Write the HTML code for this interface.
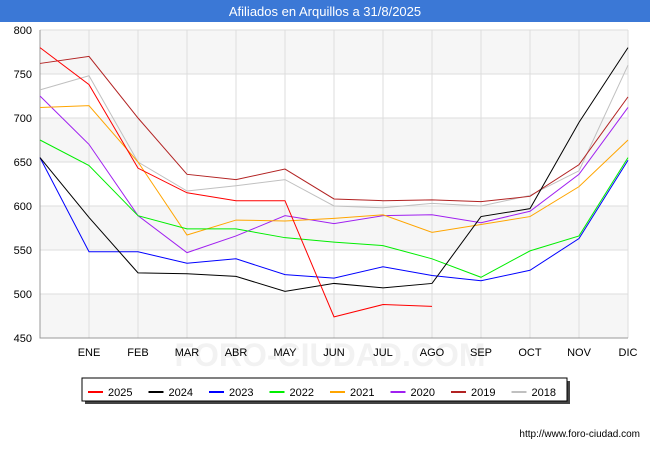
<!DOCTYPE html>
<html><head><meta charset="utf-8"><style>
body{margin:0;background:#fff;font-family:"Liberation Sans",sans-serif}
#wrap{position:relative;width:650px;height:450px;overflow:hidden}
#title{position:absolute;left:0;top:0;width:650px;height:22px;background:#3b78d6;color:#fff;font-size:13px;text-align:center;line-height:23px}
</style></head><body>
<div id="wrap">
<div id="title">Afiliados en Arquillos a 31/8/2025</div>
<svg id="svg" width="650" height="450" style="position:absolute;left:0;top:0"></svg>
</div>
<script>
const months=["","ENE","FEB","MAR","ABR","MAY","JUN","JUL","AGO","SEP","OCT","NOV","DIC"];
const yTicks=[450,500,550,600,650,700,750,800];
const seriesNames=["2025","2024","2023","2022","2021","2020","2019","2018"];
const seriesColors=["#ff0000","#000000","#0000ff","#00ee00","#ffa500","#a020f0","#b22222","#c0c0c0"];
const s2025=[780,738,643,615,606,606,474,488,486];
const s2024=[655,587,524,523,520,503,512,507,512,588,597,695,780];
const s2023=[655,548,548,535,540,522,518,531,521,515,527,563,652];
const s2022=[675,646,589,574,574,564,559,555,540,519,549,566,655];
const s2021=[712,714,650,567,584,583,586,590,570,579,588,622,675];
const s2020=[725,670,589,547,566,589,580,589,590,581,594,636,712];
const s2019=[762,770,700,636,630,642,608,606,607,605,611,647,724];
const s2018=[732,748,650,617,623,630,600,598,603,600,612,640,760];
const allSeries=[s2025,s2024,s2023,s2022,s2021,s2020,s2019,s2018];
const L=40,R=628,T=30,B=338;
const x=i=>L+i*(R-L)/12;
const y=v=>B-(v-450)*(B-T)/350;
const svg=document.getElementById('svg');const NS="http://www.w3.org/2000/svg";
function mk(t,a,p){const e=document.createElementNS(NS,t);for(const k in a)e.setAttribute(k,a[k]);(p||svg).appendChild(e);return e;}
for(let v=450;v<800;v+=100){const r=mk('rect',{x:L,y:y(v+50),width:R-L,height:y(v)-y(v+50),fill:'#f6f6f6'});

}
const wm=mk('text',{x:330,y:366,'text-anchor':'middle','font-size':32,fill:'#f2f2f2','font-weight':'bold'});wm.textContent="FORO-CIUDAD.COM";


yTicks.forEach(v=>{const l=mk('line',{x1:L,x2:R,y1:y(v),y2:y(v),stroke:'#dddddd','stroke-width':1});


const t=mk('text',{x:L-8,y:y(v)+4,'text-anchor':'end','font-size':11,fill:'#000'});t.textContent=v;

});
months.forEach((m,i)=>{if(i>0){const g=mk('line',{x1:x(i),x2:x(i),y1:T,y2:B,stroke:'#dddddd'});

}
const t=mk('text',{x:x(i),y:356,'text-anchor':'middle','font-size':11,fill:'#000'});t.textContent=m;

});
const ax=mk('path',{d:`M${L},${T}V${B}H${R}`,fill:'none',stroke:'#999'});


for(let k=allSeries.length-1;k>=0;k--){const d=allSeries[k].map((v,i)=>(i?'L':'M')+x(i)+','+y(v)).join('');
const p=mk('path',{d,fill:'none',stroke:seriesColors[k],'stroke-width':1});

}
mk('rect',{x:85,y:381,width:485,height:23,fill:'#444'});
const lb=mk('rect',{x:82,y:378,width:485,height:23,fill:'#fff',stroke:'#000'});


seriesNames.forEach((n,k)=>{const lx=88+k*60.5;
const l=mk('line',{x1:lx,x2:lx+15,y1:392,y2:392,stroke:seriesColors[k],'stroke-width':2});


const t=mk('text',{x:lx+20,y:396,'font-size':11,fill:'#000'});t.textContent=n;

});
const u=mk('text',{x:640,y:437,'text-anchor':'end','font-size':10,fill:'#000'});u.textContent="http://www.foro-ciudad.com";


</script>
</body></html>
